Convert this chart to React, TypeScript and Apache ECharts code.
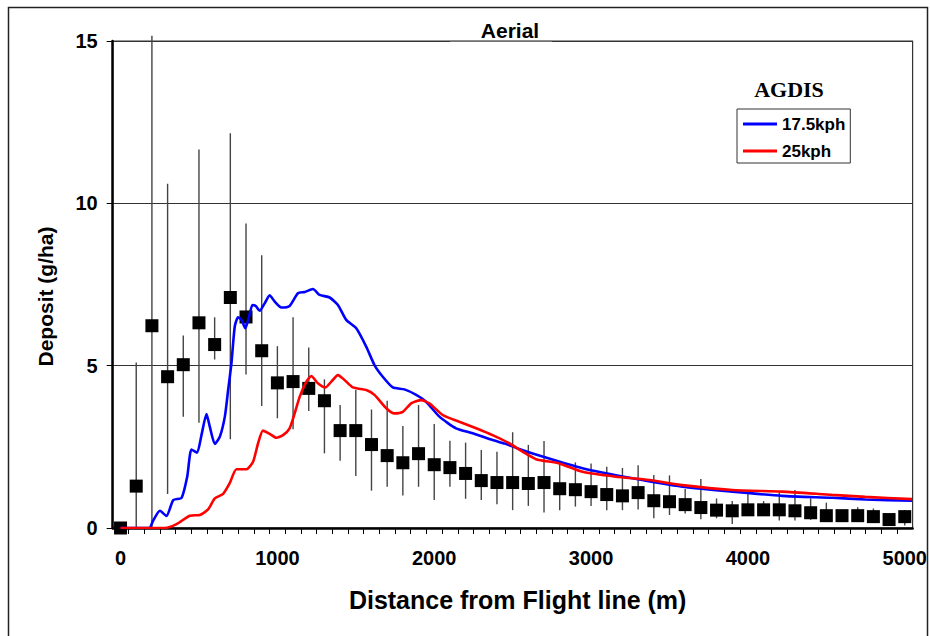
import React, { useEffect, useRef } from "react";
import * as echarts from "echarts";

const obsDistance = [0, 100, 200, 300, 400, 500, 600, 700, 800, 900, 1000, 1100, 1200, 1300, 1400, 1500, 1600, 1700, 1800, 1900, 2000, 2100, 2200, 2300, 2400, 2500, 2600, 2700, 2800, 2900, 3000, 3100, 3200, 3300, 3400, 3500, 3600, 3700, 3800, 3900, 4000, 4100, 4200, 4300, 4400, 4500, 4600, 4700, 4800, 4900, 5000];
const obsMean = [0, 1.29, 6.23, 4.66, 5.03, 6.32, 5.65, 7.1, 6.5, 5.46, 4.47, 4.51, 4.3, 3.92, 3.0, 3.0, 2.57, 2.23, 2.01, 2.29, 1.95, 1.86, 1.68, 1.46, 1.4, 1.4, 1.37, 1.4, 1.21, 1.18, 1.12, 1.03, 0.99, 1.09, 0.84, 0.81, 0.72, 0.63, 0.55, 0.53, 0.56, 0.56, 0.56, 0.53, 0.47, 0.38, 0.38, 0.38, 0.35, 0.26, 0.35];
const obsLow = [0, 0, 0, 1.05, 3.43, 3.24, 5.19, 2.73, 4.73, 3.76, 3.38, 3.04, 3.6, 2.3, 2.07, 1.6, 1.15, 1.27, 1.0, 1.27, 0.86, 1.27, 0.9, 0.86, 0.73, 0.55, 0.68, 0.48, 0.55, 0.66, 0.68, 0.55, 0.55, 0.57, 0.3, 0.4, 0.45, 0.27, 0.3, 0.12, 0.4, 0.4, 0.23, 0.23, 0.25, 0.2, 0.25, 0.2, 0.2, 0.1, 0.08];
const obsHigh = [0, 5.1, 15.16, 10.6, 5.93, 11.66, 6.49, 12.16, 9.38, 8.4, 5.6, 6.49, 5.56, 4.58, 3.79, 4.25, 3.65, 3.92, 3.14, 3.79, 3.2, 2.69, 2.63, 2.4, 2.35, 2.95, 2.56, 2.68, 1.99, 2.02, 1.99, 1.89, 1.85, 1.93, 1.63, 1.62, 1.2, 1.51, 0.91, 0.83, 1.07, 0.83, 1.12, 1.17, 0.91, 0.78, 0.5, 0.64, 0.6, 0.4, 0.55];

const blueX = [0, 183, 208, 251, 293, 336, 389, 425, 452, 488, 516, 548, 569, 601, 633, 665, 686, 707, 728, 749, 771, 796, 819, 841, 862, 887, 919, 951, 983, 1025, 1078, 1131, 1174, 1227, 1269, 1333, 1386, 1439, 1503, 1567, 1619, 1672, 1736, 1810, 1885, 1948, 2033, 2139, 2245, 2372, 2450, 2532, 2690, 2945, 3264, 3582, 3900, 4218, 4537, 4749, 5046];
const blueY = [0, 0, 0.23, 0.53, 0.37, 0.86, 0.93, 1.58, 2.42, 2.32, 2.86, 3.51, 3.12, 2.59, 2.81, 3.43, 4.25, 5.07, 6.2, 6.49, 6.41, 6.15, 6.5, 6.87, 6.84, 6.69, 6.92, 7.17, 6.97, 6.79, 6.84, 7.23, 7.27, 7.36, 7.18, 7.1, 6.87, 6.41, 6.15, 5.58, 5.02, 4.66, 4.33, 4.27, 4.1, 3.89, 3.43, 3.07, 2.92, 2.71, 2.6, 2.45, 2.2, 1.84, 1.53, 1.27, 1.12, 0.99, 0.93, 0.88, 0.84];

const redX = [0, 283, 357, 442, 505, 558, 601, 654, 696, 739, 803, 845, 877, 908, 951, 993, 1036, 1078, 1110, 1142, 1185, 1216, 1258, 1307, 1344, 1386, 1428, 1481, 1567, 1619, 1694, 1747, 1800, 1853, 1917, 1969, 2054, 2160, 2267, 2372, 2478, 2563, 2649, 2797, 2945, 3158, 3370, 3582, 3900, 4218, 4537, 4749, 5046];
const redY = [0, 0, 0.12, 0.38, 0.4, 0.57, 0.91, 1.05, 1.38, 1.81, 1.81, 2.04, 2.61, 3.0, 2.9, 2.78, 2.86, 3.07, 3.53, 4.04, 4.51, 4.68, 4.46, 4.33, 4.51, 4.71, 4.56, 4.33, 4.25, 4.1, 3.69, 3.53, 3.58, 3.84, 3.94, 3.84, 3.48, 3.27, 3.07, 2.86, 2.61, 2.35, 2.12, 1.99, 1.73, 1.58, 1.48, 1.32, 1.17, 1.12, 1.02, 0.96, 0.89];

const xLabelValues = [0, 1000, 2000, 3000, 4000, 5000];
const xTickValues = [50, 150, 250, 350, 450, 550, 650, 750, 850, 950, 1050, 1150, 1250, 1350, 1450, 1550, 1650, 1750, 1850, 1950, 2050, 2150, 2250, 2350, 2450, 2550, 2650, 2750, 2850, 2950, 3050, 3150, 3250, 3350, 3450, 3550, 3650, 3750, 3850, 3950, 4050, 4150, 4250, 4350, 4450, 4550, 4650, 4750, 4850, 4950];

const SANS = "'Liberation Sans', Arial, Helvetica, sans-serif";
const SERIF = "'Liberation Serif', 'Times New Roman', serif";

export default function App() {
  const ref = useRef<HTMLDivElement>(null);
  useEffect(() => {
    if (!ref.current) return;
    const chart = echarts.init(ref.current, null, { renderer: "svg" });
    const scatterData = obsDistance.map((d, i) => [d, obsMean[i]]);
    const barData = obsDistance.map((d, i) => [d, obsLow[i], obsHigh[i]]);
    const blueData = blueX.map((d, i) => [d, blueY[i]]);
    const redData = redX.map((d, i) => [d, redY[i]]);
    chart.setOption({
      animation: false,
      backgroundColor: "#ffffff",
      grid: {
        left: 112.7,
        right: 16.3,
        top: 41,
        bottom: 108,
        show: true,
        borderColor: "#333",
        borderWidth: 1.2,
        backgroundColor: "transparent",
      },
      legend: {
        left: 737,
        top: 109,
        orient: "vertical",
        icon: "rect",
        itemWidth: 34,
        itemHeight: 3,
        itemGap: 9,
        padding: [6, 5, 3, 6],
        borderColor: "#333",
        borderWidth: 1,
        backgroundColor: "#fff",
        textStyle: { fontFamily: SANS, fontWeight: "bold", fontSize: 17, color: "#000", lineHeight: 18 },
        data: ["17.5kph", "25kph"],
      },
      xAxis: {
        type: "value",
        min: -50,
        max: 5050,
        name: "Distance from Flight line (m)",
        nameLocation: "middle",
        nameGap: 59,
        nameTextStyle: { fontFamily: SANS, fontWeight: "bold", fontSize: 25, color: "#000", padding: [0, 0, 0, 10] },
        axisLine: { show: true, onZero: false, lineStyle: { color: "#000", width: 2.5 } },
        axisTick: { show: true, customValues: xTickValues, length: 6, lineStyle: { color: "#000", width: 1 } },
        axisLabel: {
          customValues: xLabelValues,
          formatter: (v: number) => String(v),
          fontFamily: SANS,
          fontWeight: "bold",
          fontSize: 20,
          color: "#000",
          margin: 20,
        },
        splitLine: { show: false },
      },
      yAxis: {
        type: "value",
        min: 0,
        max: 15,
        interval: 5,
        name: "Deposit (g/ha)",
        nameLocation: "middle",
        nameGap: 57,
        nameTextStyle: { fontFamily: SANS, fontWeight: "bold", fontSize: 21, color: "#000", padding: [0, 24, 0, 0] },
        axisLine: { show: true, onZero: false, lineStyle: { color: "#000", width: 2.5 } },
        axisTick: { show: true, length: 6, lineStyle: { color: "#000", width: 1 } },
        axisLabel: { fontFamily: SANS, fontWeight: "bold", fontSize: 20, color: "#000", margin: 15 },
        splitLine: { show: true, lineStyle: { color: "#333", width: 1 } },
      },
      graphic: [
        {
          type: "rect",
          shape: { x: 8.5, y: 7.5, width: 919, height: 640 },
          style: { fill: "none", stroke: "#222", lineWidth: 1.5 },
          silent: true,
          z: 0,
        },
        {
          type: "line",
          shape: { x1: 450, y1: 41, x2: 552, y2: 41 },
          style: { stroke: "#888", lineWidth: 1.5 },
          z: 10,
        },
        {
          type: "text",
          x: 510,
          y: 30,
          style: { text: "Aerial", fontFamily: SANS, fontWeight: "bold", fontSize: 21, fill: "#000", textAlign: "center", textVerticalAlign: "middle" },
          z: 10,
        },
        {
          type: "text",
          x: 789,
          y: 89,
          style: { text: "AGDIS", fontFamily: SERIF, fontWeight: "bold", fontSize: 22, fill: "#000", textAlign: "center", textVerticalAlign: "middle" },
          z: 10,
        },
      ],
      series: [
        {
          name: "errorbars",
          type: "custom",
          z: 1,
          clip: false,
          data: barData,
          renderItem: (params: any, api: any) => {
            const x = api.value(0);
            const p1 = api.coord([x, api.value(1)]);
            const p2 = api.coord([x, api.value(2)]);
            return {
              type: "line",
              shape: { x1: p1[0], y1: p1[1], x2: p2[0], y2: p2[1] },
              style: { stroke: "#444", lineWidth: 1.4 },
            };
          },
        },
        {
          name: "observed",
          type: "scatter",
          z: 2,
          symbol: "rect",
          symbolSize: 13,
          itemStyle: { color: "#000", opacity: 1 },
          data: scatterData,
        },
        {
          name: "17.5kph",
          type: "line",
          z: 3,
          symbol: "none",
          smooth: 0.2,
          itemStyle: { color: "#0000ff" },
          lineStyle: { color: "#0000ff", width: 2.6 },
          data: blueData,
        },
        {
          name: "25kph",
          type: "line",
          z: 3,
          symbol: "none",
          smooth: 0.2,
          itemStyle: { color: "#ff0000" },
          lineStyle: { color: "#ff0000", width: 2.6 },
          data: redData,
        },
      ],
    });
    return () => chart.dispose();
  }, []);
  return <div ref={ref} style={{ position: "absolute", left: 0, top: 0, width: 930, height: 636 }} />;
}
